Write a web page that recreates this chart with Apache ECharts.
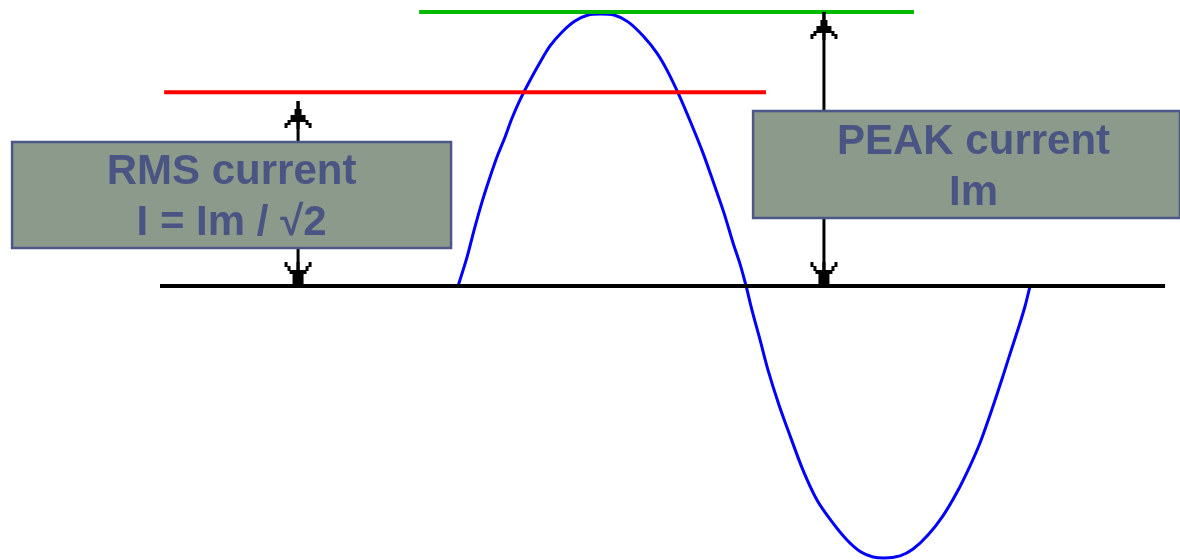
<!DOCTYPE html>
<html>
<head>
<meta charset="utf-8">
<script src="https://cdn.jsdelivr.net/npm/echarts@6/dist/echarts.min.js"></script>
<style>
html,body{margin:0;padding:0;background:#ffffff;}
#chart{width:1180px;height:560px;}
</style>
</head>
<body>
<div id="chart"></div>
<script>
// ---- Data ----
// phase angle of the current wave, degrees
const waveAngle = [0, 5.7, 10.1, 15.1, 19.5, 24.5, 29.6, 34.0, 39.0, 44.1, 51.0, 57.9, 65.5, 73.6, 81.8, 89.4, 98.2, 107.0, 117.1, 125.2, 131.5, 139.1, 146.6, 154.2, 161.1, 167.4, 173.1, 177.5, 181.3,
  185.0, 190.1, 195.1, 202.0, 209.0, 217.1, 225.9, 235.4, 244.8, 253.6, 261.2, 268.1, 278.2, 286.4, 295.8, 305.2, 314.1, 322.2, 328.5, 336.1, 343.0, 348.0, 353.1, 356.9, 360];
// instantaneous current, in units of the peak current Im
const waveCurrent = [0, 0.106, 0.204, 0.307, 0.387, 0.471, 0.544, 0.613, 0.679, 0.737, 0.810, 0.876, 0.927, 0.967, 0.989, 0.993, 0.989, 0.964, 0.909, 0.850, 0.788, 0.697, 0.595, 0.485, 0.372, 0.266, 0.157, 0.080, 0,
  -0.088, -0.197, -0.307, -0.434, -0.547, -0.672, -0.781, -0.861, -0.927, -0.971, -0.989, -0.993, -0.985, -0.960, -0.909, -0.839, -0.752, -0.657, -0.573, -0.449, -0.328, -0.237, -0.146, -0.073, 0];

const zeroLevel = 0;
const rmsLevel = 0.707;   // Im / sqrt(2)
const peakLevel = 1.0;    // Im

const rmsLabel = 'RMS current\nI = Im / √2';
const peakLabel = 'PEAK current\nIm';

// ---- Annotation layout (angle / current units) ----
const zeroSpan = [-187.6, 445.0];
const rmsSpan = [-185.0, 193.8];
const peakSpan = [-24.5, 287.0];
const rmsArrowX = -100.7;
const rmsArrowTop = 0.675;
const peakArrowX = 230.3;
const rmsBox = [[-280.7, 0.526], [-4.4, 0.139]];
const peakBox = [[185.7, 0.639], [463.2, 0.248]];

const upArrowPath = 'path://M12,0 L15,0 L15,8 L17,8 L17,14 L21,14 L21,19 L24,19 L24,22 L27,22 L27,27 L24,27 L24,24 L21,24 L21,21 L15,21 L15,28 L12,28 L12,21 L6,21 L6,24 L3,24 L3,27 L0,27 L0,22 L3,22 L3,19 L6,19 L6,14 L10,14 L10,8 L12,8 Z';
const downArrowPath = 'path://M12,0 L15,0 L15,8 L21,8 L21,4 L24,4 L24,0 L27,0 L27,5 L24,5 L24,9 L22,9 L22,12 L19,12 L19,24 L8,24 L8,12 L5,12 L5,9 L3,9 L3,5 L0,5 L0,0 L3,0 L3,4 L6,4 L6,8 L12,8 Z';
const upSize = [27, 28];
const downSize = [27, 24];

const chart = echarts.init(document.getElementById('chart'), null, {renderer: 'canvas'});

function hline(span, level, color) {
  return {
    type: 'line', data: [[span[0], level], [span[1], level]],
    symbol: 'none', silent: true, z: 3, animation: false,
    lineStyle: {color: color, width: 4, cap: 'butt'}
  };
}
function vline(x, y0, y1) {
  return {
    type: 'line', data: [[x, y0], [x, y1]],
    symbol: 'none', silent: true, z: 3, animation: false,
    lineStyle: {color: '#000000', width: 3, cap: 'butt'}
  };
}

const boxLabel = {
  show: true, position: 'inside',
  fontSize: 42, fontWeight: 'bold',
  fontFamily: '"Liberation Sans", Arial, sans-serif',
  color: '#4b5583', lineHeight: 51, align: 'center',
  offset: [0, 3]
};
const boxStyle = {color: '#8c9a8b', borderColor: '#4d5787', borderWidth: 2.5, opacity: 1};

chart.setOption({
  backgroundColor: '#ffffff',
  animation: false,
  grid: {left: 0, right: 0, top: 0, bottom: 0},
  xAxis: {type: 'value', min: -288.3, max: 454.4, show: false},
  yAxis: {type: 'value', min: -1.0, max: 1.0438, show: false},
  series: [
    {
      type: 'line', name: 'current',
      data: waveAngle.map((a, i) => [a, waveCurrent[i]]),
      symbol: 'none', smooth: 0.3, z: 2, silent: true,
      lineStyle: {color: '#0000ff', width: 3}
    },
    hline(zeroSpan, zeroLevel, '#000000'),
    hline(rmsSpan, rmsLevel, '#ff0000'),
    hline(peakSpan, peakLevel, '#00bb00'),
    vline(rmsArrowX, zeroLevel, rmsArrowTop),
    vline(peakArrowX, zeroLevel, peakLevel),
    {
      type: 'scatter', silent: true, z: 4,
      symbol: upArrowPath, symbolSize: upSize,
      symbolOffset: [0, upSize[1] / 2],
      itemStyle: {color: '#000000', opacity: 1},
      data: [[rmsArrowX, rmsArrowTop], [peakArrowX, peakLevel]]
    },
    {
      type: 'scatter', silent: true, z: 4,
      symbol: downArrowPath, symbolSize: downSize,
      symbolOffset: [0, -downSize[1] / 2],
      itemStyle: {color: '#000000', opacity: 1},
      data: [[rmsArrowX, zeroLevel], [peakArrowX, zeroLevel]]
    },
    {
      type: 'line', data: [], z: 10, silent: true,
      markArea: {
        silent: true, z: 10,
        itemStyle: boxStyle,
        label: boxLabel,
        data: [
          [{coord: rmsBox[0], name: rmsLabel}, {coord: rmsBox[1]}],
          [{coord: peakBox[0], name: peakLabel, label: {offset: [7, 3]}}, {coord: peakBox[1]}]
        ]
      }
    }
  ]
});
</script>
</body>
</html>
